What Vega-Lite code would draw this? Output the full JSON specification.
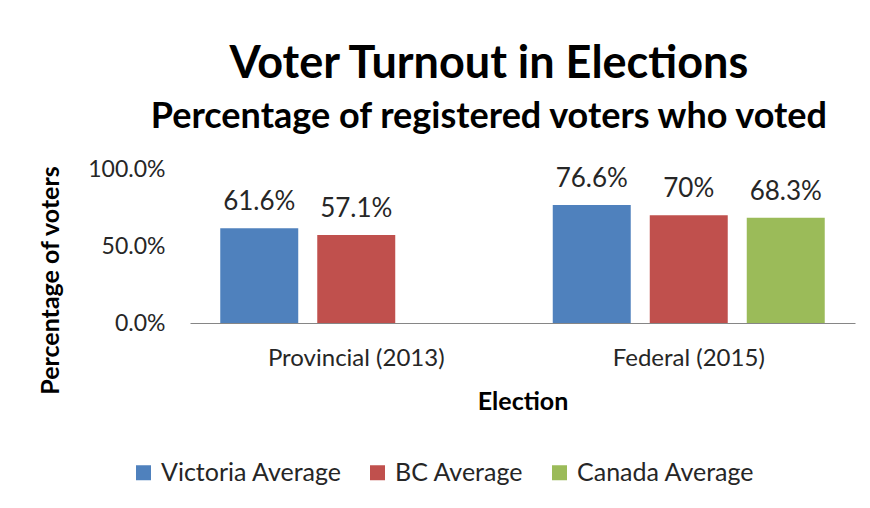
{
  "$schema": "https://vega.github.io/schema/vega-lite/v6.json",
  "width": 665,
  "height": 154,
  "padding": {"left": 38, "top": 42, "right": 15, "bottom": 5},
  "background": "white",
  "title": {
    "text": "Voter Turnout in Elections",
    "subtitle": "Percentage of registered voters who voted",
    "anchor": "middle",
    "frame": "bounds",
    "dx": 42,
    "font": "Lato",
    "fontSize": 45,
    "fontWeight": "bold",
    "color": "#000000",
    "subtitleFont": "Lato",
    "subtitleFontSize": 36,
    "subtitleFontWeight": "bold",
    "subtitleColor": "#000000",
    "subtitlePadding": 13,
    "offset": 23
  },
  "data": {
    "values": [
      {"election": "Provincial (2013)", "group": "Victoria Average", "turnout": 0.616},
      {"election": "Provincial (2013)", "group": "BC Average", "turnout": 0.571},
      {"election": "Federal (2015)", "group": "Victoria Average", "turnout": 0.766},
      {"election": "Federal (2015)", "group": "BC Average", "turnout": 0.70},
      {"election": "Federal (2015)", "group": "Canada Average", "turnout": 0.683}
    ]
  },
  "encoding": {
    "x": {
      "field": "election",
      "type": "nominal",
      "sort": ["Provincial (2013)", "Federal (2015)"],
      "scale": {"paddingInner": 0.182, "paddingOuter": 0.091},
      "axis": {
        "title": "Election",
        "labelAngle": 0,
        "labelFont": "Lato",
        "labelFontSize": 24,
        "labelColor": "#262626",
        "labelPadding": 23,
        "ticks": false,
        "domainColor": "#868686",
        "domainWidth": 1,
        "titleFont": "Lato",
        "titleFontSize": 25,
        "titleFontWeight": "bold",
        "titleColor": "#000000",
        "titlePadding": 19,
        "grid": false
      }
    },
    "xOffset": {
      "field": "group",
      "type": "nominal",
      "sort": ["Victoria Average", "BC Average", "Canada Average"],
      "scale": {"domain": ["Victoria Average", "BC Average", "Canada Average"], "paddingInner": 0.196, "paddingOuter": 0}
    },
    "y": {
      "field": "turnout",
      "type": "quantitative",
      "scale": {"domain": [0, 1], "nice": false},
      "axis": {
        "title": "Percentage of voters",
        "format": ".1%",
        "values": [0, 0.5, 1],
        "labelFont": "Lato",
        "labelFontSize": 23,
        "labelColor": "#262626",
        "labelPadding": 25,
        "ticks": false,
        "domain": false,
        "grid": false,
        "titleFont": "Lato",
        "titleFontSize": 25,
        "titleFontWeight": "bold",
        "titleColor": "#000000",
        "titlePadding": 24,
        "titleY": 111
      }
    }
  },
  "layer": [
    {
      "mark": {"type": "bar"},
      "encoding": {
        "color": {
          "field": "group",
          "type": "nominal",
          "scale": {
            "domain": ["Victoria Average", "BC Average", "Canada Average"],
            "range": ["#4F81BD", "#C0504D", "#9BBB59"]
          },
          "legend": {
            "title": null,
            "orient": "none",
            "legendX": -59,
            "legendY": 291,
            "direction": "horizontal",
            "symbolType": "square",
            "symbolSize": 225,
            "symbolStrokeWidth": 0,
            "symbolOpacity": 1,
            "labelFont": "Lato",
            "labelFontSize": 25,
            "labelColor": "#262626",
            "labelOffset": 5,
            "columnPadding": 23,
            "labelLimit": 300
          }
        }
      }
    },
    {
      "mark": {"type": "text", "font": "Lato", "fontSize": 26, "color": "#262626", "baseline": "alphabetic", "dy": -18},
      "encoding": {
        "text": {"field": "turnout", "type": "quantitative", "format": ".1~%"}
      }
    }
  ],
  "config": {
    "view": {"stroke": null}
  }
}
